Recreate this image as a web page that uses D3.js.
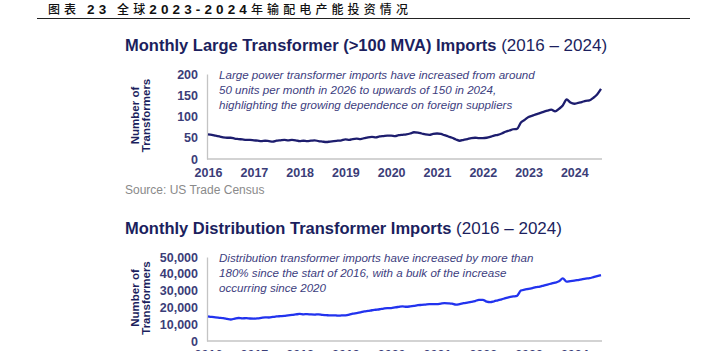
<!DOCTYPE html>
<html>
<head>
<meta charset="utf-8">
<script src="https://d3js.org/d3.v7.min.js"></script>
<style>
  body { margin: 0; background: #fff; }
  svg { display: block; font-family: 'Liberation Sans', Arial, sans-serif; }
</style>
</head>
<body>
<div id="chart"></div>
<script>
// monthly values, Jan 2016 .. Aug 2024
const largeImports = [
  58, 57, 55, 53, 51, 50, 50, 48, 47, 46, 45, 45,
  44, 43, 42, 43, 42, 41, 43, 44, 45, 44, 45, 44,
  42, 43, 42, 43, 44, 42, 41, 40, 41, 42, 43, 44,
  46, 45, 47, 48, 47, 49, 51, 52, 51, 53, 54, 55,
  55, 54, 56, 57, 58, 60, 63, 62, 60, 58, 57, 59,
  60, 59, 56, 53, 50, 46, 43, 45, 47, 49, 50, 49,
  49, 50, 52, 55, 57, 60, 64, 67, 70, 71, 86, 92,
  99, 102, 105, 108, 111, 114, 116, 112, 118, 126, 140, 133,
  130, 132, 134, 137, 138, 144, 152, 165
];
const distImports = [
  14700, 14300, 14000, 13800, 13600, 13200, 12800, 13300, 13700, 13500, 13600, 13400,
  13300, 13500, 13800, 14100, 14000, 14300, 14600, 14800, 15000, 15300, 15500, 15800,
  16100, 15900, 16000, 15800, 15700, 15900, 15600, 15400, 15200, 15300, 15100, 15200,
  15300, 15700, 16300, 16600, 17000, 17600, 17900, 18300, 18600, 18900, 19300, 19600,
  19600, 20000, 20300, 20600, 20400, 20600, 20900, 21300, 21500, 21700, 21900, 22000,
  22000, 22300, 22500, 22400, 22200, 21600, 22000, 22500, 22900, 23300, 23800, 24500,
  24500, 23400, 23100, 23600, 24200, 24800, 25500, 26100, 26500, 26900, 30000, 30600,
  31000, 31500, 32000, 32400, 33000, 33600, 34200, 34800, 35500, 37300, 35300, 35700,
  35900, 36300, 36700, 37100, 37400, 38000, 38600, 39200
];
const years = [2016, 2017, 2018, 2019, 2020, 2021, 2022, 2023, 2024];
const largeTicks = [0, 50, 100, 150, 200];
const distTicks = [0, 10000, 20000, 30000, 40000, 50000];

// heading pieces: [text, bold?]
const heading = [["图表 ", false], ["23", true], [" 全球", false], ["2023-2024", true], ["年输配电产能投资情况", false]];
const largeTitle = ["Monthly Large Transformer (>100 MVA) Imports", " (2016 \u2013 2024)"];
const distTitle = ["Monthly Distribution Transformer Imports", " (2016 \u2013 2024)"];
const largeNote = [
  "Large power transformer imports have increased from around",
  "50 units per month in 2026 to upwards of 150 in 2024,",
  "highlighting the growing dependence on foreign suppliers"
];
const distNote = [
  "Distribution transformer imports have increased by more than",
  "180% since the start of 2016, with a bulk of the increase",
  "occurring since 2020"
];

const W = 703, H = 351;
const navy = "#1c1f5e", tickCol = "#3b3d78", noteCol = "#3d4080";

const svg = d3.select("#chart").append("svg")
  .attr("width", W).attr("height", H);

// report heading
const ht = svg.append("text")
  .attr("x", 48).attr("y", 13.5)
  .attr("font-family", "'Noto Sans CJK SC', sans-serif")
  .attr("font-size", 12)
  .attr("textLength", 360).attr("lengthAdjust", "spacing")
  .attr("fill", "#111");
heading.forEach(([s, b]) => {
  ht.append("tspan")
    .attr("font-weight", b ? "bold" : "500")
    .attr("font-family", b ? "'Liberation Sans', Arial, sans-serif" : null)
    .attr("font-size", b ? 13.5 : null)
    .text(s);
});
svg.append("line")
  .attr("x1", 37).attr("x2", 690).attr("y1", 18.5).attr("y2", 18.5)
  .attr("stroke", "#222").attr("stroke-width", 1.2);

const x = d3.scaleTime()
  .domain([new Date(2016, 0, 1), new Date(2024, 7, 1)])
  .range([208, 601]);

function panel(opts) {
  const { data, yTicks, yMax, y0, y1, title, note, titleY, noteY, lineColor, fmt } = opts;
  const y = d3.scaleLinear().domain([0, yMax]).range([y0, y1]);
  const pts = data.map((v, i) => ({ date: new Date(2016, i, 1), v }));

  const t = svg.append("text")
    .attr("x", 125).attr("y", titleY)
    .attr("font-size", 16.5).attr("fill", navy);
  t.append("tspan").attr("font-weight", "bold").text(title[0]);
  t.append("tspan").attr("font-weight", "normal").attr("font-size", 17).text(title[1]);

  const yAxis = svg.append("g")
    .attr("transform", "translate(207,0)")
    .call(d3.axisLeft(y).tickValues(yTicks).tickSize(0).tickPadding(9).tickFormat(fmt));
  yAxis.select(".domain").attr("stroke", "#c4c4c4").attr("stroke-width", 1.3);
  yAxis.selectAll("text")
    .attr("font-family", "'Liberation Sans', Arial, sans-serif")
    .attr("font-size", 12.5).attr("font-weight", "bold").attr("fill", tickCol);

  const xAxis = svg.append("g")
    .attr("transform", `translate(0,${y0})`)
    .call(d3.axisBottom(x)
      .tickValues(years.map(yr => new Date(yr, 0, 1)))
      .tickFormat(d3.timeFormat("%Y")).tickSize(0).tickPadding(9));
  xAxis.select(".domain").attr("stroke", "#c4c4c4").attr("stroke-width", 1.3)
    .attr("d", `M207,0H602`);
  xAxis.selectAll("text")
    .attr("font-family", "'Liberation Sans', Arial, sans-serif")
    .attr("font-size", 12.5).attr("font-weight", "bold").attr("fill", tickCol);

  // y axis title
  const midY = (y0 + y1) / 2 - 1;
  const yt = svg.append("text")
    .attr("transform", `translate(140,${midY}) rotate(-90)`)
    .attr("text-anchor", "middle")
    .attr("font-size", 11.5).attr("font-weight", "bold").attr("fill", navy);
  yt.append("tspan").attr("x", 0).attr("dy", "-0.1em").text("Number of");
  yt.append("tspan").attr("x", 0).attr("dy", "1.0em").text("Transformers");

  svg.append("path")
    .datum(pts)
    .attr("fill", "none")
    .attr("stroke", lineColor)
    .attr("stroke-width", 2.3)
    .attr("stroke-linejoin", "round")
    .attr("d", d3.line().x(d => x(d.date)).y(d => y(d.v)).curve(d3.curveMonotoneX));

  svg.append("g").selectAll("text")
    .data(note).join("text")
    .attr("x", 219).attr("y", (d, i) => noteY + i * 15)
    .attr("font-size", 11.6).attr("font-style", "italic").attr("fill", noteCol)
    .text(d => d);
}

panel({
  data: largeImports, yTicks: largeTicks, yMax: 200, y0: 159, y1: 74,
  title: largeTitle, note: largeNote, titleY: 51, noteY: 79,
  lineColor: "#1d1d6e", fmt: d3.format("d")
});

svg.append("text")
  .attr("x", 125).attr("y", 194)
  .attr("font-size", 12).attr("fill", "#8a8a8a")
  .text("Source: US Trade Census");

panel({
  data: distImports, yTicks: distTicks, yMax: 50000, y0: 341, y1: 257,
  title: distTitle, note: distNote, titleY: 234, noteY: 262,
  lineColor: "#2233ee", fmt: d3.format(",")
});
</script>
</body>
</html>
